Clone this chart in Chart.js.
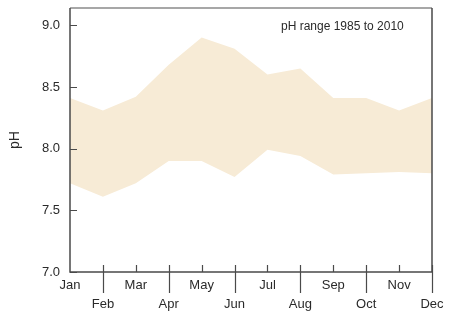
<!DOCTYPE html>
<html>
<head>
<meta charset="utf-8">
<title>pH range</title>
<script src="https://cdn.jsdelivr.net/npm/chart.js@4"></script>
<style>
  html, body { margin: 0; padding: 0; background: #fff; }
  #wrap { width: 450px; height: 323px; }
</style>
</head>
<body>
<div id="wrap"><canvas id="phChart" width="450" height="323"></canvas></div>
<script>
// ---------- data ----------
const months  = ['Jan', 'Feb', 'Mar', 'Apr', 'May', 'Jun', 'Jul', 'Aug', 'Sep', 'Oct', 'Nov', 'Dec'];
const phHigh  = [8.41, 8.31, 8.42, 8.68, 8.90, 8.81, 8.60, 8.65, 8.41, 8.41, 8.31, 8.41];
const phLow   = [7.72, 7.61, 7.72, 7.90, 7.90, 7.77, 7.99, 7.94, 7.79, 7.80, 7.81, 7.80];
const phTicks = [7.0, 7.5, 8.0, 8.5, 9.0];

const FONT = '"Liberation Sans", Arial, Helvetica, sans-serif';
const AXIS = '#4a4a4a';
const BAND = '#f7ebd6';

// even months sit on a second label row
const xLabels = months.map((m, i) => (i % 2 === 1 ? ['', m] : m));

// frame, tick marks and the corner note
const framePlugin = {
  id: 'frame',
  afterDraw(chart) {
    const { ctx, chartArea: a, scales: { x, y } } = chart;
    ctx.save();
    ctx.lineCap = 'butt';

    // top border
    ctx.strokeStyle = '#8a8a8a';
    ctx.lineWidth = 1.5;
    ctx.beginPath();
    ctx.moveTo(a.left, a.top);
    ctx.lineTo(a.right, a.top);
    ctx.stroke();

    // left, bottom, right
    ctx.strokeStyle = AXIS;
    ctx.beginPath();
    ctx.moveTo(a.left, a.top);
    ctx.lineTo(a.left, a.bottom);
    ctx.lineTo(a.right, a.bottom);
    ctx.lineTo(a.right, a.top);
    ctx.stroke();

    // y ticks point inward
    ctx.lineWidth = 1.2;
    ctx.beginPath();
    y.ticks.forEach((t, i) => {
      const py = Math.round(y.getPixelForTick(i)) + 0.5;
      ctx.moveTo(a.left, py);
      ctx.lineTo(a.left + 7, py);
    });
    ctx.stroke();

    // x ticks: short for odd rows, long through the axis for even rows
    ctx.beginPath();
    x.ticks.forEach((t, i) => {
      if (i === 0) return;
      const px = Math.round(x.getPixelForTick(i)) + 0.5;
      if (i % 2 === 1) {
        ctx.moveTo(px, a.bottom - 7);
        ctx.lineTo(px, a.bottom + 21);
      } else {
        ctx.moveTo(px, a.bottom - 7);
        ctx.lineTo(px, a.bottom);
      }
    });
    ctx.stroke();

    ctx.fillStyle = '#2a2a2a';
    ctx.font = '12px ' + FONT;
    ctx.textAlign = 'left';
    ctx.textBaseline = 'alphabetic';
    ctx.fillText('pH range 1985 to 2010', 281, 30);
    ctx.restore();
  }
};

const ctx = document.getElementById('phChart').getContext('2d');
const chart = new Chart(ctx, {
  type: 'line',
  data: {
    labels: xLabels,
    datasets: [
      {
        label: 'Low',
        data: phLow,
        borderWidth: 0,
        pointRadius: 0,
        tension: 0,
        fill: false
      },
      {
        label: 'High',
        data: phHigh,
        borderWidth: 0,
        pointRadius: 0,
        tension: 0,
        backgroundColor: BAND,
        fill: '-1'
      }
    ]
  },
  options: {
    responsive: false,
    animation: false,
    layout: { padding: { top: 8, right: 18, left: 0, bottom: 0 } },
    plugins: {
      legend: { display: false },
      tooltip: { enabled: false }
    },
    scales: {
      x: {
        type: 'category',
        offset: false,
        grid: { display: false, drawTicks: false },
        border: { display: false },
        ticks: {
          color: '#2a2a2a',
          font: { family: FONT, size: 13, lineHeight: 1.45 },
          padding: 4,
          maxRotation: 0,
          autoSkip: false
        },
        afterFit(scale) {
          scale.height = 51;
          scale.paddingLeft = 0;
          scale.paddingRight = 0;
        }
      },
      y: {
        min: 7,
        max: 9.14,
        grid: { display: false, drawTicks: false },
        border: { display: false },
        afterBuildTicks(scale) {
          scale.ticks = phTicks.map(v => ({ value: v }));
        },
        ticks: {
          color: '#2a2a2a',
          font: { family: FONT, size: 13 },
          padding: 10,
          callback: v => v.toFixed(1)
        },
        title: {
          display: true,
          text: 'pH',
          color: '#2a2a2a',
          font: { family: FONT, size: 14 },
          padding: { top: 7, bottom: 0 }
        },
        afterFit(scale) {
          scale.width = 70;
          scale.paddingTop = 0;
          scale.paddingBottom = 0;
        }
      }
    }
  },
  plugins: [framePlugin]
});
</script>
</body>
</html>
